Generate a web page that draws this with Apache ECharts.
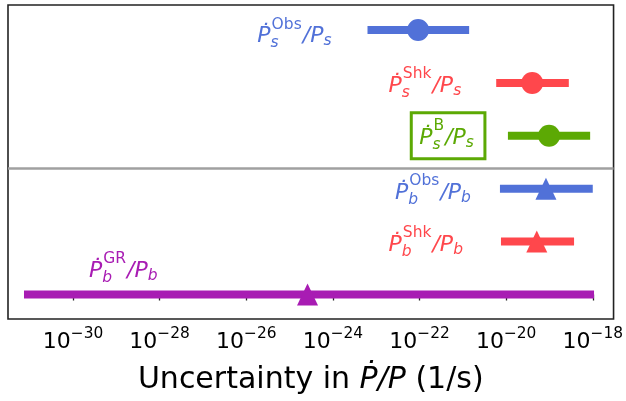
<!DOCTYPE html>
<html lang="en">
<head>
<meta charset="UTF-8">
<title>Uncertainty in P-dot / P</title>
<script src="https://cdn.jsdelivr.net/npm/echarts@6/dist/echarts.min.js"></script>
<style>
  html, body { margin: 0; padding: 0; background: #fff; }
  #chart { width: 626px; height: 401px; }
</style>
</head>
<body>
<div id="chart"></div>
<script>
// rows, top to bottom
var rowSup = ['Obs', 'Shk', 'B', 'Obs', 'Shk', 'GR'];
var rowSub = ['s', 's', 's', 'b', 'b', 'b'];
var centerVals = [9.3e-23, 4.0e-20, 9.8e-20, 8.3e-20, 5.1e-20, 2.6e-25];
var lowVals = [6.3e-24, 5.9e-21, 1.1e-20, 7.2e-21, 7.6e-21, 7.4e-32];
var highVals = [1.4e-21, 2.8e-19, 8.7e-19, 1.0e-18, 3.7e-19, 1.07e-18];
var tickVals = [1e-30, 1e-28, 1e-26, 1e-24, 1e-22, 1e-20, 1e-18];

// looks
var colors = ['#5171d8', '#ff474c', '#5ca904', '#5171d8', '#ff474c', '#a81cb3'];
var markers = ['circle', 'circle', 'circle', 'triangle', 'triangle', 'triangle'];
var boxed = [false, false, true, false, false, false];
// label anchor, relative to the left end of the bar: [dx, baseline dy, align]
var labelPos = [[-36, 12, 'right'], [-35, 9, 'right'], [-34, 8, 'right'],
                [-29, 10, 'right'], [-38, 9, 'right'], [65, -18, 'left']];

var FAM = '"DejaVu Sans"';
var mainFont = 'italic 22px ' + FAM;
var supFont = '15.5px ' + FAM;
var subFont = 'italic 15.5px ' + FAM;

var ctx = document.createElement('canvas').getContext('2d');
function textW(s, font) { ctx.font = font; return ctx.measureText(s).width; }
function midOff(font) {
  ctx.font = font;
  ctx.textBaseline = 'middle';
  return ctx.measureText('H').actualBoundingBoxDescent;
}

function txt(s, font, x, base, fill) {
  return {
    type: 'text',
    x: x, y: base - midOff(font),
    style: { text: s, font: font, fill: fill, align: 'left', verticalAlign: 'middle' }
  };
}

function buildLabel(i, xRef, yc) {
  var color = colors[i];
  var wP = textW('\u1E56', mainFont);
  var wSup = textW(rowSup[i], supFont);
  var wSub = textW(rowSub[i], subFont);
  var wSl = textW('/', mainFont);
  var wP2 = textW('P', mainFont);
  var wSub2 = textW(rowSub[i], subFont);
  var total = wP + 1 + Math.max(wSup, wSub) + 1 + wSl + wP2 + wSub2;
  var pos = labelPos[i];
  var x0 = pos[2] === 'right' ? xRef + pos[0] - total : xRef + pos[0];
  var base = yc + pos[1];
  var out = [];
  out.push(txt('\u1E56', mainFont, x0, base, color));
  var xs = x0 + wP + 1;
  out.push(txt(rowSup[i], supFont, xs, base - 13.5, color));
  out.push(txt(rowSub[i], subFont, xs - 1, base + 5, color));
  var x1 = xs + Math.max(wSup, wSub) + 1;
  out.push(txt('/', mainFont, x1, base, color));
  out.push(txt('P', mainFont, x1 + wSl, base, color));
  out.push(txt(rowSub[i], subFont, x1 + wSl + wP2, base + 3, color));
  if (boxed[i]) {
    out.push({
      type: 'rect',
      shape: { x: x0 - 8, y: yc - 23, width: total + 19, height: 46 },
      style: { fill: null, stroke: color, lineWidth: 3 }
    });
  }
  return out;
}

var rows = [];
for (var i = 0; i < rowSup.length; i++) {
  rows.push([lowVals[i], highVals[i], centerVals[i], rowSup.length - 1 - i, i]);
}

var chart = echarts.init(document.getElementById('chart'));
chart.setOption({
  animation: false,
  grid: { left: 8, right: 11, top: 5, bottom: 82, show: true, borderColor: '#222', borderWidth: 1.6 },
  xAxis: {
    type: 'log',
    logBase: 10,
    min: Math.pow(10, -31.5),
    max: Math.pow(10, -17.52),
    axisLine: { show: false },
    splitLine: { show: false },
    minorTick: { show: false },
    axisTick: { customValues: tickVals, length: 6, lineStyle: { color: '#222', width: 1.3 } },
    axisLabel: {
      customValues: tickVals,
      margin: 7,
      formatter: function (v) {
        var e = Math.round(Math.log10(v));
        return '{b|10}{s|\u2212' + Math.abs(e) + '}';
      },
      rich: {
        b: { fontSize: 22, fontFamily: FAM, color: '#000' },
        s: { fontSize: 15.4, fontFamily: FAM, color: '#000', padding: [0, 0, 18, 0] }
      }
    },
    name: '{n|Uncertainty in }{i|\u1E56/P}{n| (1/s)}',
    nameLocation: 'middle',
    nameGap: 46,
    nameTextStyle: {
      rich: {
        n: { fontSize: 30, fontFamily: FAM, color: '#000' },
        i: { fontSize: 30, fontFamily: FAM, fontStyle: 'italic', color: '#000' }
      }
    }
  },
  yAxis: { type: 'value', min: -0.463, max: 5.473, show: false },
  series: [{
    type: 'custom',
    data: rows,
    encode: { x: [0, 1, 2], y: 3 },
    renderItem: function (params, api) {
      var idx = api.value(4);
      var y = api.value(3);
      var p0 = api.coord([api.value(0), y]);
      var p1 = api.coord([api.value(1), y]);
      var pc = api.coord([api.value(2), y]);
      var color = colors[idx];
      var kids = [{
        type: 'rect',
        shape: { x: p0[0], y: p0[1] - 4, width: p1[0] - p0[0], height: 8 },
        style: { fill: color }
      }];
      if (markers[idx] === 'circle') {
        kids.push({ type: 'circle', shape: { cx: pc[0], cy: pc[1], r: 11 }, style: { fill: color } });
      } else {
        kids.push({
          type: 'polygon',
          shape: { points: [[pc[0], pc[1] - 11], [pc[0] - 10.5, pc[1] + 11], [pc[0] + 10.5, pc[1] + 11]] },
          style: { fill: color }
        });
      }
      kids = kids.concat(buildLabel(idx, p0[0], p0[1]));
      return { type: 'group', children: kids };
    },
    markLine: {
      silent: true,
      symbol: 'none',
      label: { show: false },
      lineStyle: { color: '#a0a0a0', width: 2.5, type: 'solid' },
      data: [{ yAxis: 2.38 }]
    }
  }]
});
</script>
</body>
</html>
